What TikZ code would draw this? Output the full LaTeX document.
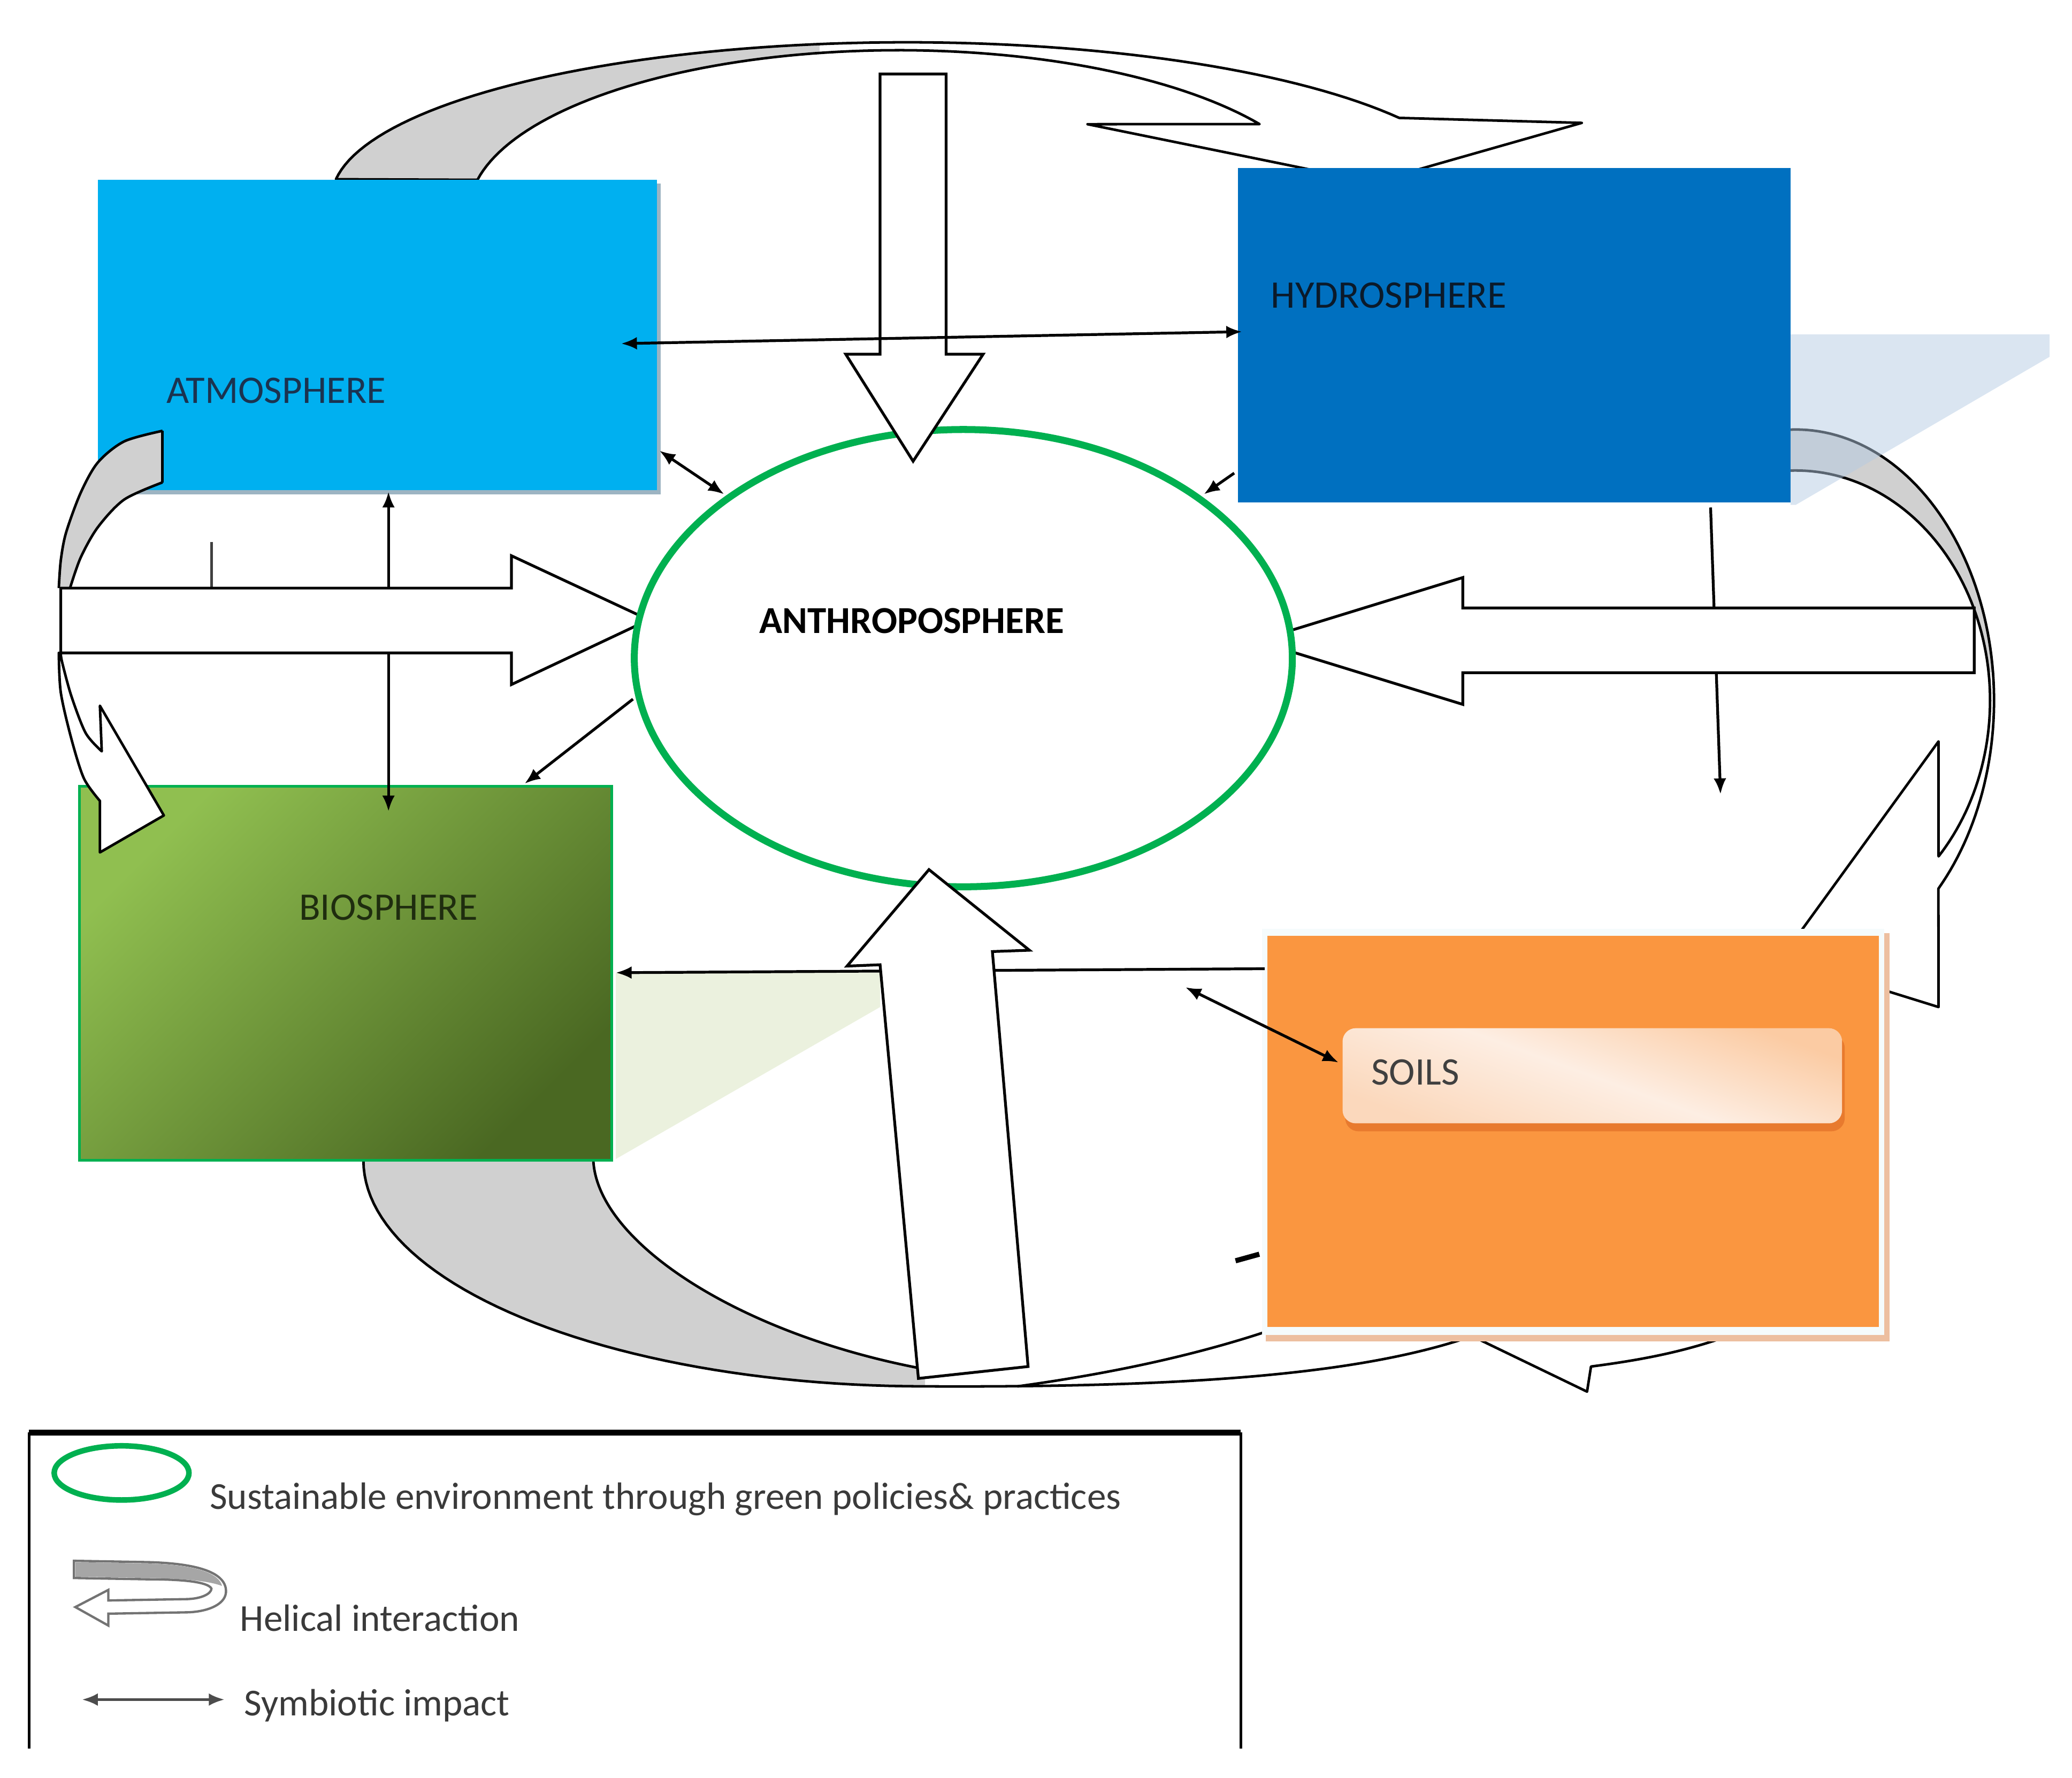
\documentclass[tikz,border=0pt]{standalone}
\usepackage{fontspec}
\setmainfont{Carlito}
\usetikzlibrary{arrows.meta,shapes.geometric}
\definecolor{atmC}{HTML}{00B0F0}
\definecolor{atmS}{HTML}{9DB4C2}
\definecolor{hydC}{HTML}{0070C0}
\definecolor{ellC}{HTML}{00B050}
\definecolor{bioL}{HTML}{90BF50}
\definecolor{bioD}{HTML}{4A6822}
\definecolor{soilC}{HTML}{FA9640}
\definecolor{soilSh}{HTML}{EDBFA0}
\definecolor{soilFr}{HTML}{F5FBFC}
\definecolor{soilT}{HTML}{FBCBA3}
\definecolor{soilM}{HTML}{FDEEE3}
\definecolor{soilB}{HTML}{FBD8BC}
\definecolor{soilIS}{HTML}{E87A2E}
\definecolor{ribC}{HTML}{D0D0D0}
\definecolor{paleB}{HTML}{B5CBE3}
\definecolor{paleG}{HTML}{EBF1DE}
\definecolor{txtA}{HTML}{1B3350}
\definecolor{txtH}{HTML}{0B1A2A}
\definecolor{txtB}{HTML}{1F2D0F}
\definecolor{txtS}{HTML}{404040}
\definecolor{txtL}{HTML}{3A3A3A}
\begin{document}
\begin{tikzpicture}[x=0.1mm,y=-0.1mm,
  box/.style={rectangle,inner sep=0pt,outer sep=0pt,anchor=north west},
  lbl/.style={inner sep=0pt,anchor=base,font=\fontsize{8.4pt}{10pt}\selectfont},
  leg/.style={inner sep=0pt,anchor=base west,font=\fontsize{8.2pt}{10pt}\selectfont,text=txtL},
  ribline/.style={draw=black,line width=0.55pt,line join=round},
  blk/.style={draw=black,fill=white,line width=0.6pt,line join=miter},
  thinline/.style={draw=black,line width=0.6pt},
  dbl/.style={thinline,{Latex[length=1.2mm,width=0.95mm]}-{Latex[length=1.2mm,width=0.95mm]}},
  sgl/.style={thinline,-{Latex[length=1.2mm,width=0.95mm]}}]
\useasboundingbox (0,0) rectangle (1568,1345);

% ---------- top helical ribbon ----------
\fill[ribC] plot[domain=173:98.7,samples=40] ({686+435*cos(\x)},{150-118*sin(\x)})
  -- plot[domain=100.6:168.7,samples=40] ({680+325*cos(\x)},{160-122*sin(\x)}) -- cycle;
\draw[ribline] plot[domain=173:31,samples=80] ({686+435*cos(\x)},{150-118*sin(\x)})
  -- (1197,93) -- (1039,138) -- (823,94)
  -- plot[domain=32.8:168.7,samples=80] ({680+325*cos(\x)},{160-122*sin(\x)}) -- cycle;

% ---------- right helical ribbon ----------
\fill[ribC] plot[domain=92:6,samples=40] ({1359+150*cos(\x)},{530-205*sin(\x)})
  -- plot[domain=7:92,samples=40] ({1359+147*cos(\x)},{530-174*sin(\x)}) -- cycle;
\draw[ribline] plot[domain=92:-44,samples=80] ({1359+150*cos(\x)},{530-205*sin(\x)})
  -- (1467,762) -- (1348,725) -- (1467,561)
  -- plot[domain=-42.7:92,samples=80] ({1359+147*cos(\x)},{530-174*sin(\x)});

% ---------- bottom helical ribbon ----------
\fill[ribC] plot[domain=180:270,samples=50] ({700+425*cos(\x)},{878-171*sin(\x)})
  -- (700,1036) .. controls (560,1010) and (452,940) .. (449,878) -- cycle;
\draw[ribline] plot[domain=180:270,samples=50] ({700+425*cos(\x)},{878-171*sin(\x)})
  .. controls (900,1050) and (1030,1040) .. (1114,1011)
  -- (1201,1053) -- (1204,1034) .. controls (1250,1028) and (1290,1020) .. (1335,1000);
\draw[ribline] (449,878) .. controls (452,940) and (560,1010) .. (700,1036);
\draw[ribline] (770,1049) .. controls (850,1038) and (920,1022) .. (980,1000);
\draw[ribline] (275,878) -- (449,878);

% ---------- boxes ----------
\fill[atmS] (77,139) rectangle (500,374);
\node[box,fill=atmC,minimum width=42.3mm,minimum height=23.5mm] (atm) at (74,136) {};
\node[box,fill=hydC,minimum width=41.8mm,minimum height=25.3mm] (hyd) at (937,127) {};
\node[box,draw=ellC,line width=0.6pt,shading=axis,top color=bioL,bottom color=bioD,shading angle=45,
      minimum width=40.3mm,minimum height=28.3mm] (bio) at (60,595) {};
\fill[soilSh] (958,706) rectangle (1430,1015);
\fill[soilFr] (955,703) rectangle (1426,1010);
\node[box,fill=soilC,minimum width=46.3mm,minimum height=29.6mm] (soil) at (959,708) {};
\fill[soilIS,rounded corners=1mm] (1018,783) rectangle (1396,856);
\node[box,rounded corners=1mm,shading=axis,top color=soilT,bottom color=soilB,middle color=soilM,shading angle=-20,
      minimum width=37.8mm,minimum height=7.2mm] (soilin) at (1016,778) {};

% ---------- pale extrusion faces ----------
\fill[paleB,opacity=0.5] (1355,253) -- (1551,253) -- (1551,270) -- (1359,382) -- (1355,382) -- cycle;
\fill[paleG] (466,736) -- (666,736) -- (666,762) -- (466,877) -- cycle;

% ---------- left helical ribbon ----------
\fill[ribC] plot[smooth] coordinates {(123,326) (94,334) (74,350) (61,373) (50,403) (46,424) (44.5,445)}
  -- plot[smooth] coordinates {(53,445) (61,422) (74,399) (94,378) (123,365)} -- cycle;
\draw[ribline] plot[smooth] coordinates {(123,326) (94,334) (74,350) (61,373) (50,403) (46,424) (44.5,445)};
\draw[ribline] plot[smooth] coordinates {(123,365) (94,378) (74,399) (61,422) (53,445)};
\draw[ribline] (123,326) -- (123,365);
\draw[ribline,fill=white] plot[smooth] coordinates {(44.5,494) (46,524) (54,559) (63.5,589) (75.6,606)}
  -- (75.6,645) -- (124,617) -- (75.6,534) -- (77,568.5)
  -- plot[smooth] coordinates {(77,568.5) (64.8,554.6) (54,526.7) (47,501) (46,494)} -- cycle;

% ---------- thin connectors under block arrows ----------
\coordinate (p9) at (294,372);  \coordinate (p10) at (294,614);
\coordinate (p11) at (1294.5,384); \coordinate (p12) at (1302,601);
\coordinate (p13) at (957,733); \coordinate (p14) at (466,736);
\draw[dbl] (p9) -- (p10);
\draw[sgl] (p11) -- (p12);
\draw[sgl] (p13) -- (p14);
\coordinate (t1) at (160,410); \coordinate (t2) at (160,445);
\draw[thinline,draw=black!75] (t1) -- (t2);

% ---------- horizontal block arrows ----------
\draw[blk] (46,445) -- (387,445) -- (387,420.5) -- (491,469) -- (387,518) -- (387,494) -- (46,494) -- cycle;
\draw[blk] (1494,460) -- (1494,509) -- (1107,509) -- (1107,533) -- (951,485) -- (1107,437) -- (1107,460) -- cycle;

% ---------- anthroposphere ----------
\node[ellipse,draw=ellC,line width=1.5pt,fill=white,inner sep=0pt,minimum width=49.8mm,minimum height=34.6mm] (anth) at (729,498) {};

% ---------- vertical block arrows ----------
\draw[blk] (666,56) -- (716,56) -- (716,268) -- (744,268) -- (691,349) -- (640,268) -- (666,268) -- cycle;
\draw[blk] (695,1043) -- (666,730) -- (641,731) -- (703,658) -- (779,719) -- (751,720) -- (778,1034) -- cycle;

% ---------- thin connectors on top ----------
\coordinate (p1) at (470,260);  \coordinate (p2) at (940,251);
\coordinate (p3) at (499,341);  \coordinate (p4) at (548,374);
\coordinate (p5) at (479,529);  \coordinate (p6) at (397,593);
\coordinate (p7) at (934,358);  \coordinate (p8) at (911,374);
\coordinate (p15) at (897,747); \coordinate (p16) at (1013,804);
\draw[dbl] (p1) -- (p2);
\draw[dbl] (p3) -- (p4);
\draw[sgl] (p5) -- (p6);
\draw[sgl] (p7) -- (p8);
\draw[dbl] (p15) -- (p16);
\coordinate (s1) at (935,954); \coordinate (s2) at (953,949);
\draw[line width=1.1pt] (s1) -- (s2);

% ---------- labels ----------
\node[lbl,text=txtA] (latm) at (209,305) {ATMOSPHERE};
\node[lbl,text=txtH] (lhyd) at (1051,233) {HYDROSPHERE};
\node[lbl,text=black,font=\fontsize{8.2pt}{10pt}\selectfont\bfseries] (lanth) at (690,479) {ANTHROPOSPHERE};
\node[lbl,text=txtB] (lbio) at (294,696) {BIOSPHERE};
\node[lbl,text=txtS] (lsoil) at (1071,821) {SOILS};

% ---------- legend ----------
\draw[line width=0.6pt] (22,1323) -- (22,1084) (939,1084) -- (939,1323);
\draw[line width=1.2pt] (22,1084) -- (939,1084);
\node[ellipse,draw=ellC,line width=1.2pt,inner sep=0pt,minimum width=10.2mm,minimum height=4.1mm] (legell) at (92,1114.5) {};
\node[leg] (leg1) at (158,1142) {Sustainable environment through green policies\& practices};
\draw[draw=black!55,fill=white,line width=0.5pt] (56,1181) -- (112,1182) .. controls (150,1183) and (172,1190) .. (171,1205)
  .. controls (170,1215) and (155,1220) .. (140,1220) -- (82,1221) -- (82,1230) -- (57,1216) -- (82,1203) -- (82,1211)
  -- (140,1210) .. controls (152,1210) and (160,1206) .. (160,1202) .. controls (158,1198) and (145,1195) .. (112,1195) -- (56,1194) -- cycle;
\fill[black!35] (57,1182) -- (112,1183) .. controls (150,1184) and (166,1191) .. (168,1200)
  .. controls (160,1197) and (145,1194.5) .. (112,1194) -- (57,1193) -- cycle;
\node[leg] (leg2) at (181,1234) {Helical interaction};
\coordinate (l1) at (62,1286); \coordinate (l2) at (170,1286);
\draw[dbl,draw=black!70] (l1) -- (l2);
\node[leg] (leg3) at (184,1298) {Symbiotic impact};
\end{tikzpicture}
\end{document}
